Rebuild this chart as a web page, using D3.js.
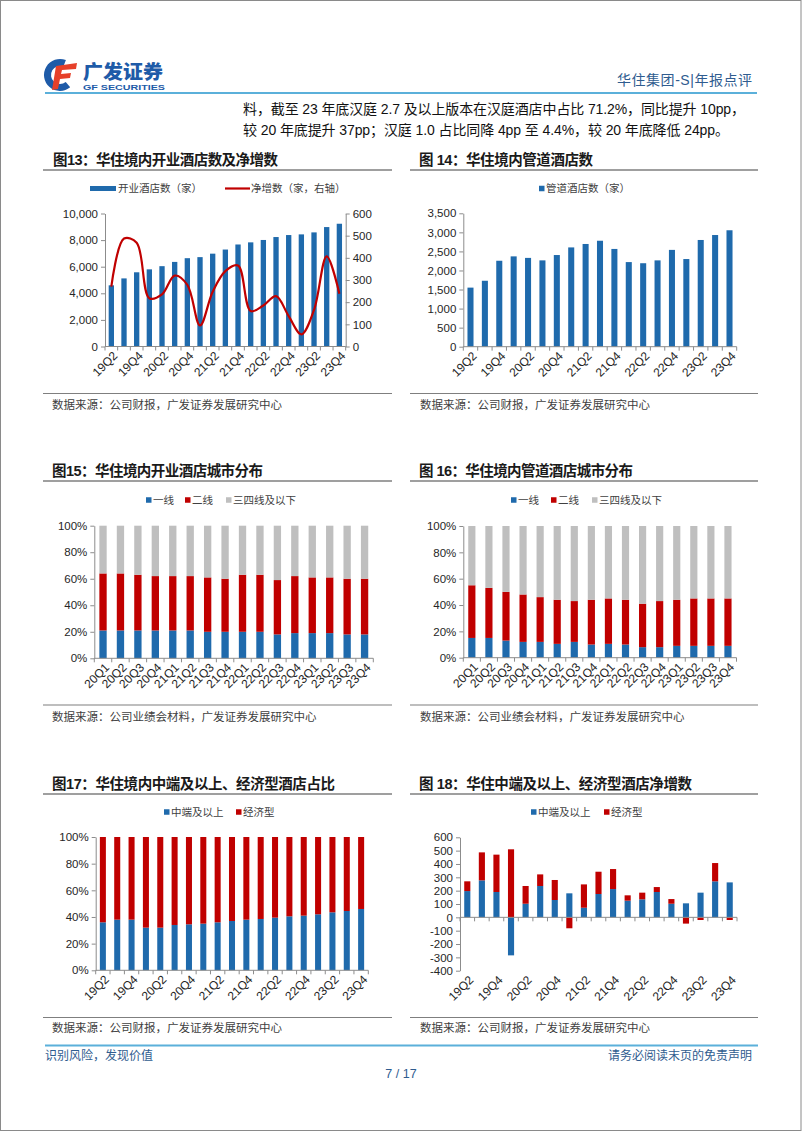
<!DOCTYPE html>
<html><head><meta charset="utf-8">
<script src="https://cdn.jsdelivr.net/npm/d3@7"></script>
<style>
html,body{margin:0;padding:0;background:#fff;}
svg{display:block;}
text{font-family:"Liberation Sans",Arial,"Noto Sans CJK SC",sans-serif;}
</style></head><body>
<svg id="page" width="802" height="1133"></svg>
<script>
// ---------------- DATA ----------------
const quarters19 = ["19Q2","19Q3","19Q4","20Q1","20Q2","20Q3","20Q4","21Q1","21Q2","21Q3","21Q4","22Q1","22Q2","22Q3","22Q4","23Q1","23Q2","23Q3","23Q4"];
const quarters16 = ["20Q1","20Q2","20Q3","20Q4","21Q1","21Q2","21Q3","21Q4","22Q1","22Q2","22Q3","22Q4","23Q1","23Q2","23Q3","23Q4"];

const openHotels = [4600,5120,5580,5800,6040,6360,6640,6720,6980,7290,7670,7830,8010,8230,8380,8430,8580,8980,9230];
const netAdds = [270,487,468,218,235,320,278,95,247,340,365,160,185,227,137,55,165,407,238];
const pipelineHotels = [1550,1730,2255,2370,2330,2265,2405,2605,2695,2780,2565,2220,2190,2265,2540,2300,2800,2930,3055];

const openTier1 = [21,21,21,21,21,21,20,20,20,20,18,19,19,19,18,18];
const openTier2 = [43,43,42,41,41,41,41,40,43,43,41,43,42,42,42,42];
const openTier34 = [36,36,37,38,38,38,39,40,37,37,41,38,39,39,40,40];

const pipeTier1 = [15,15,13,12,12,10.5,12,10,10.5,10,8,8,9,9,9,9];
const pipeTier2 = [40,38,37,36,34,33.5,31,34,34.5,34,33,35,35,36,36,36];
const pipeTier34 = [45,47,50,52,54,56,57,56,55,56,59,57,56,55,55,55];

const midUpShare = [36,38,38,32,32,34,34.5,35,36,37,38,38.5,39.5,40.5,41,42,43.5,44.5,46];
const economyShare = [64,62,62,68,68,66,65.5,65,64,63,62,61.5,60.5,59.5,59,58,56.5,55.5,54];

const netMidUp = [197,277,190,-285,102,235,130,180,72,175,212,125,135,190,102,105,185,270,262];
const netEconomy = [73,210,280,510,133,87,150,-82,175,167,150,40,50,37,35,-47,-20,137,-20];

const ticks13Left = [0,2000,4000,6000,8000,10000];
const ticks13Right = [0,100,200,300,400,500,600];
const ticks14 = [0,500,1000,1500,2000,2500,3000,3500];
const ticksPct = [0,20,40,60,80,100];
const ticks18 = [-400,-300,-200,-100,0,100,200,300,400,500,600];

// ---------------- STYLE ----------------
const BLUE = "#1F6AAC", RED = "#C00000", GRAY = "#BFBFBF", AXIS = "#8C8C8C";
const CJK = "'Noto Sans CJK SC',sans-serif";
const MIX = "'Liberation Sans',Arial,'Noto Sans CJK SC',sans-serif";
const svg = d3.select("#page");

// page border
svg.append("rect").attr("x",0.5).attr("y",0.5).attr("width",800.5).attr("height",1130).attr("fill","none").attr("stroke","#8a8a8a").attr("stroke-width",1);

// ---------------- HEADER ----------------
const logo = svg.append("g");
logo.append("path")
  .attr("transform","translate(60,75)")
  .attr("d", d3.arc().innerRadius(9).outerRadius(16).startAngle(Math.PI*0.78).endAngle(Math.PI*2.12)())
  .attr("fill","#1E5BA8");
logo.append("path").attr("d","M56,66 L77,63 L76,69 L62,70 L61,74 L71,73 L70,78 L60,79 L58,89 L52,90 Z").attr("fill","#E6402A");
logo.append("text").attr("x",83).attr("y",78.5).attr("font-family",CJK).attr("font-weight",900).attr("font-size",19)
  .attr("fill","#1E5BA8").attr("textLength",80).attr("lengthAdjust","spacingAndGlyphs").text("广发证券");
logo.append("text").attr("x",83).attr("y",90).attr("font-family",MIX).attr("font-weight",700).attr("font-size",8)
  .attr("fill","#1E5BA8").attr("textLength",82).attr("lengthAdjust","spacingAndGlyphs").text("GF SECURITIES");

svg.append("text").attr("x",752).attr("y",85).attr("text-anchor","end").attr("font-family",MIX).attr("font-size",14)
  .attr("fill","#2F5C8F").attr("textLength",135).attr("lengthAdjust","spacing").text("华住集团-S|年报点评");
svg.append("line").attr("x1",45).attr("x2",757).attr("y1",93).attr("y2",93).attr("stroke","#5BB0DA").attr("stroke-width",2);

svg.append("text").attr("x",243).attr("y",114).attr("font-family",MIX).attr("font-size",14).attr("fill","#111")
  .attr("textLength",502).attr("lengthAdjust","spacing")
  .text("料，截至 23 年底汉庭 2.7 及以上版本在汉庭酒店中占比 71.2%，同比提升 10pp，");
svg.append("text").attr("x",243).attr("y",135).attr("font-family",MIX).attr("font-size",14).attr("fill","#111")
  .attr("textLength",486).attr("lengthAdjust","spacing")
  .text("较 20 年底提升 37pp；汉庭 1.0 占比同降 4pp 至 4.4%，较 20 年底降低 24pp。");

// ---------------- FOOTER ----------------
svg.append("line").attr("x1",45).attr("x2",758).attr("y1",1045.5).attr("y2",1045.5).attr("stroke","#5BB0DA").attr("stroke-width",2);
svg.append("text").attr("x",45).attr("y",1060).attr("font-family",CJK).attr("font-size",12).attr("fill","#2F5C8F").text("识别风险，发现价值");
svg.append("text").attr("x",752).attr("y",1060).attr("text-anchor","end").attr("font-family",CJK).attr("font-size",12).attr("fill","#2F5C8F").text("请务必阅读末页的免责声明");
svg.append("text").attr("x",401).attr("y",1078).attr("text-anchor","middle").attr("font-family",MIX).attr("font-size",12.5).attr("fill","#2F5C8F").text("7 / 17");

// ---------------- FRAME HELPERS ----------------
function frame(o){
  svg.append("text").attr("x",o.tx).attr("y",o.ty).attr("font-family",MIX).attr("font-weight",700).attr("font-size",14.5)
    .attr("fill","#1a1a1a").attr("textLength",o.tl).attr("lengthAdjust","spacing").text(o.title);
  svg.append("line").attr("x1",o.x1).attr("x2",o.x2).attr("y1",o.ly).attr("y2",o.ly).attr("stroke","#7f7f7f").attr("stroke-width",1.5);
  svg.append("line").attr("x1",o.x1).attr("x2",o.x2).attr("y1",o.sly).attr("y2",o.sly).attr("stroke","#7f7f7f").attr("stroke-width",1.2);
  svg.append("text").attr("x",o.sx).attr("y",o.sy).attr("font-family",CJK).attr("font-size",11.5).attr("fill","#404040").text(o.src);
}
function legend(items, cy){
  const g = svg.append("g");
  items.forEach(it=>{
    if(it.type==="line"){
      g.append("line").attr("x1",it.x).attr("x2",it.x+it.w).attr("y1",cy).attr("y2",cy).attr("stroke",it.color).attr("stroke-width",2.2);
    } else {
      const w = it.w||5.5, h = it.h||5.5;
      g.append("rect").attr("x",it.x).attr("y",cy-h/2).attr("width",w).attr("height",h).attr("fill",it.color);
    }
    g.append("text").attr("x",it.tx).attr("y",cy).attr("dy","0.36em").attr("font-family",CJK).attr("font-size",10.5).attr("fill","#404040").text(it.text);
  });
}
function styleAxis(g){
  g.select(".domain").attr("stroke",AXIS);
  g.selectAll(".tick line").attr("stroke",AXIS);
  g.selectAll(".tick text").attr("font-family",MIX).attr("font-size",11.5).attr("fill","#262626");
}
function xCategoryAxis(cats, x, axisY, labelY, every){
  const g = svg.append("g");
  const step = x.step();
  const [r0,r1] = x.range();
  g.append("line").attr("x1",r0).attr("x2",r1).attr("y1",axisY).attr("y2",axisY).attr("stroke",AXIS);
  cats.concat(["__end"]).forEach((c,i)=>{
    const b = i<cats.length ? x(c)+x.bandwidth()/2-step/2 : r1;
    g.append("line").attr("x1",b).attr("x2",b).attr("y1",axisY).attr("y2",axisY+4).attr("stroke",AXIS);
  });
  const ax = svg.append("g").attr("transform",`translate(0,${labelY})`)
    .call(d3.axisBottom(x).tickValues(cats.filter((c,i)=>i%every===0)).tickSize(0).tickSizeOuter(0));
  ax.select(".domain").remove();
  ax.selectAll(".tick text").attr("font-family",MIX).attr("font-size",12).attr("fill","#262626")
    .attr("text-anchor","end").attr("y",0).attr("dy","0.35em").attr("x",0)
    .attr("transform","translate(4,7) rotate(-45)");
}
function band(cats, x0, x1){
  return d3.scaleBand().domain(cats).range([x0,x1]).paddingInner(0.58).paddingOuter(0.29);
}

// ---------------- CHART 13 ----------------
{
  frame({tx:53,ty:165,tl:225,title:"图13：华住境内开业酒店数及净增数",x1:43,x2:392,ly:170,sly:393.5,sx:52,sy:408.5,src:"数据来源：公司财报，广发证券发展研究中心"});
  legend([{x:90,w:26,h:5,color:BLUE,tx:118,text:"开业酒店数（家）"},{type:"line",x:225,w:25,color:RED,tx:251,text:"净增数（家，右轴）"}],188.5);
  const x = band(quarters19,105,345.7);
  const yL = d3.scaleLinear().domain([0,10000]).range([346.5,213.5]);
  const yR = d3.scaleLinear().domain([0,600]).range([346.5,213.5]);
  svg.append("g").selectAll("rect").data(openHotels).join("rect")
    .attr("x",(d,i)=>x(quarters19[i])).attr("width",x.bandwidth())
    .attr("y",d=>yL(d)).attr("height",d=>yL(0)-yL(d)).attr("fill",BLUE);
  const line = d3.line().x((d,i)=>x(quarters19[i])+x.bandwidth()/2).y(d=>yR(d)).curve(d3.curveCatmullRom.alpha(0.5));
  svg.append("path").attr("d",line(netAdds)).attr("fill","none").attr("stroke",RED).attr("stroke-width",2.2);
  styleAxis(svg.append("g").attr("transform","translate(105,0)").call(d3.axisLeft(yL).tickValues(ticks13Left).tickSize(4).tickSizeOuter(0).tickFormat(d3.format(","))));
  styleAxis(svg.append("g").attr("transform","translate(345.7,0)").call(d3.axisRight(yR).tickValues(ticks13Right).tickSize(4).tickSizeOuter(0)));
  xCategoryAxis(quarters19,x,346.5,346.5,2);
}

// ---------------- CHART 14 ----------------
{
  frame({tx:419,ty:165,tl:174,title:"图 14：华住境内管道酒店数",x1:410,x2:758,ly:170,sly:393.5,sx:420,sy:408.5,src:"数据来源：公司财报，广发证券发展研究中心"});
  legend([{x:539,color:BLUE,tx:546,text:"管道酒店数（家）"}],188.5);
  const x = band(quarters19,463.3,736.7);
  const y = d3.scaleLinear().domain([0,3500]).range([346.7,213.3]);
  svg.append("g").selectAll("rect").data(pipelineHotels).join("rect")
    .attr("x",(d,i)=>x(quarters19[i])).attr("width",x.bandwidth())
    .attr("y",d=>y(d)).attr("height",d=>y(0)-y(d)).attr("fill",BLUE);
  styleAxis(svg.append("g").attr("transform","translate(463.3,0)").call(d3.axisLeft(y).tickValues(ticks14).tickSize(4).tickSizeOuter(0).tickFormat(d3.format(","))));
  xCategoryAxis(quarters19,x,346.7,346.7,2);
}

// ---------------- STACKED helper ----------------
function stackedChart(cats, series, colors, x0, x1, y0, y1, domain, ticks, fmt, axisY, labelY, every){
  const x = band(cats,x0,x1);
  const y = d3.scaleLinear().domain(domain).range([y0,y1]);
  const rows = cats.map((c,i)=>{const r={cat:c}; series.forEach((s,k)=>r["s"+k]=s[i]); return r;});
  const keys = series.map((s,k)=>"s"+k);
  const stacked = d3.stack().keys(keys).offset(d3.stackOffsetDiverging)(rows);
  stacked.forEach((layer,k)=>{
    svg.append("g").selectAll("rect").data(layer).join("rect")
      .attr("x",d=>x(d.data.cat)).attr("width",x.bandwidth())
      .attr("y",d=>y(Math.max(d[0],d[1]))).attr("height",d=>Math.abs(y(d[0])-y(d[1]))).attr("fill",colors[k]);
  });
  styleAxis(svg.append("g").attr("transform",`translate(${x0},0)`).call(d3.axisLeft(y).tickValues(ticks).tickSize(4).tickSizeOuter(0).tickFormat(fmt)));
  xCategoryAxis(cats,x,y(axisY),labelY,every);
}
const pctFmt = d=>d+"%";

// ---------------- CHART 15 ----------------
frame({tx:52,ty:476,tl:211,title:"图15：华住境内开业酒店城市分布",x1:43,x2:392,ly:481,sly:705,sx:52,sy:721,src:"数据来源：公司业绩会材料，广发证券发展研究中心"});
legend([{x:146,color:BLUE,tx:153,text:"一线"},{x:185,color:RED,tx:192,text:"二线"},{x:226,color:GRAY,tx:233,text:"三四线及以下"}],500);
stackedChart(quarters16,[openTier1,openTier2,openTier34],[BLUE,RED,GRAY],94.3,373.3,658.3,525.7,[0,100],ticksPct,pctFmt,0,658.3,1);

// ---------------- CHART 16 ----------------
frame({tx:419,ty:476,tl:214,title:"图 16：华住境内管道酒店城市分布",x1:410,x2:758,ly:481,sly:705,sx:420,sy:721,src:"数据来源：公司业绩会材料，广发证券发展研究中心"});
legend([{x:511,color:BLUE,tx:518,text:"一线"},{x:551,color:RED,tx:558,text:"二线"},{x:592,color:GRAY,tx:599,text:"三四线及以下"}],500);
stackedChart(quarters16,[pipeTier1,pipeTier2,pipeTier34],[BLUE,RED,GRAY],463.3,736.5,657.7,526,[0,100],ticksPct,pctFmt,0,657.7,1);

// ---------------- CHART 17 ----------------
frame({tx:52,ty:789,tl:283,title:"图17：华住境内中端及以上、经济型酒店占比",x1:43,x2:392,ly:794,sly:1017.5,sx:52,sy:1032,src:"数据来源：公司财报，广发证券发展研究中心"});
legend([{x:164,color:BLUE,tx:171,text:"中端及以上"},{x:236,color:RED,tx:243,text:"经济型"}],812);
stackedChart(quarters19,[midUpShare,economyShare],[BLUE,RED],95.7,368.3,970.3,837,[0,100],ticksPct,pctFmt,0,970.3,2);

// ---------------- CHART 18 ----------------
frame({tx:419,ty:789,tl:273,title:"图 18：华住中端及以上、经济型酒店净增数",x1:410,x2:758,ly:794,sly:1017.5,sx:420,sy:1032,src:"数据来源：公司财报，广发证券发展研究中心"});
legend([{x:531,color:BLUE,tx:538,text:"中端及以上"},{x:604,color:RED,tx:611,text:"经济型"}],812);
stackedChart(quarters19,[netMidUp,netEconomy],[BLUE,RED],460,737,970.7,837.3,[-400,600],ticks18,d=>d,0,970.7,2);
</script></body></html>
